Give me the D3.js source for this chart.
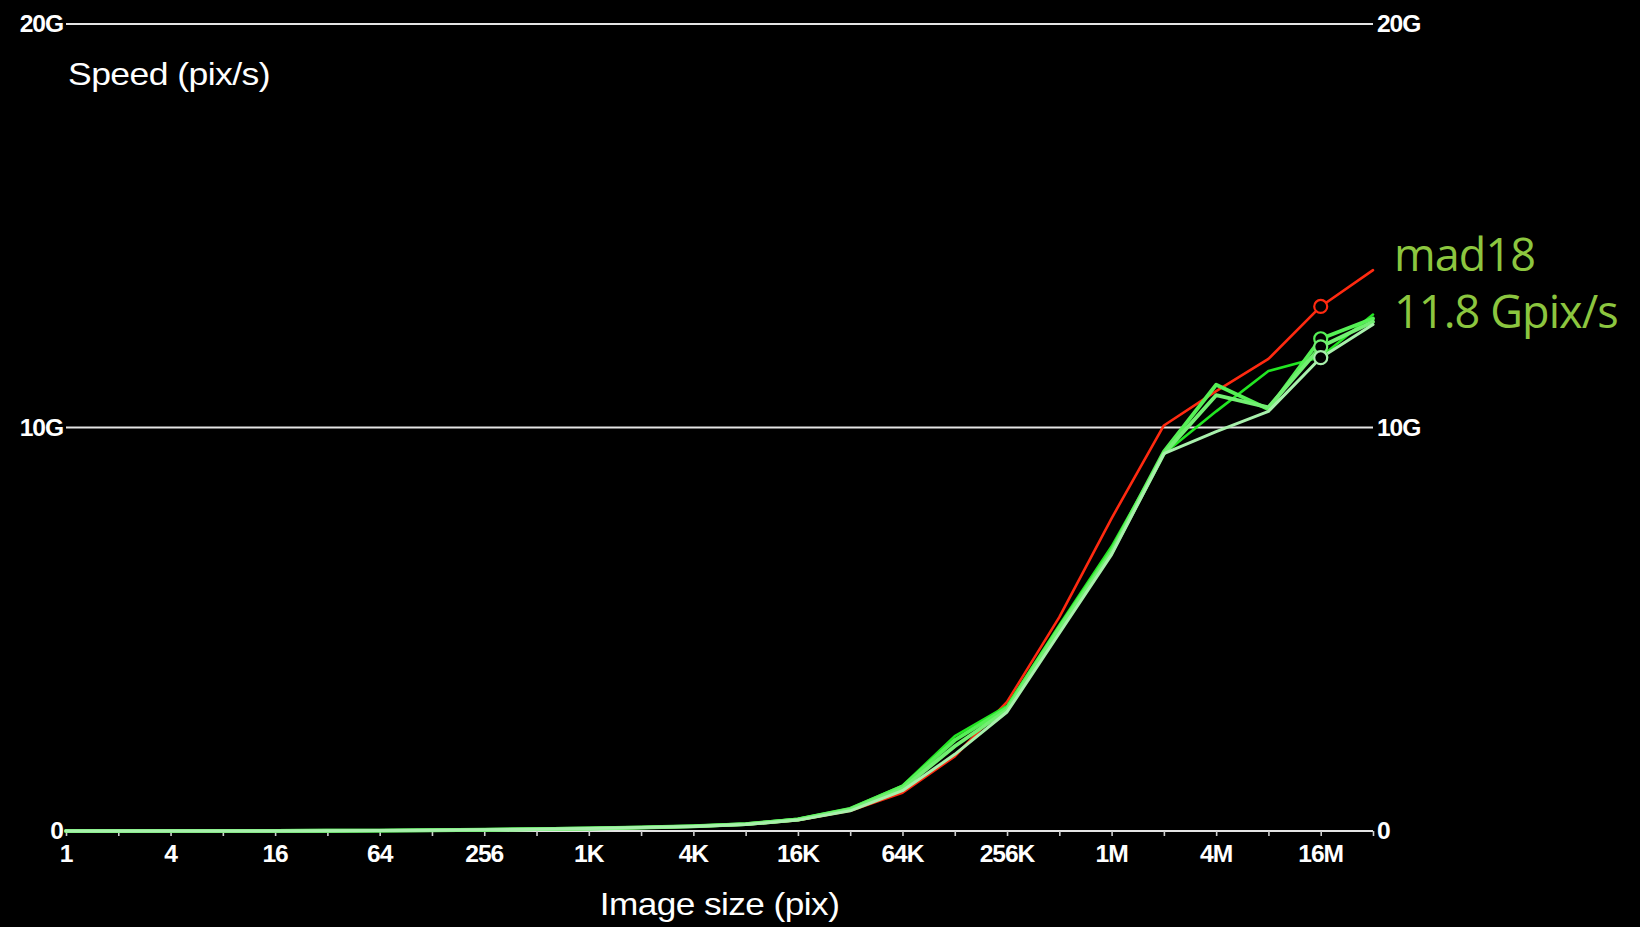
<!DOCTYPE html>
<html>
<head>
<meta charset="utf-8">
<script src="https://cdn.jsdelivr.net/npm/d3@7"></script>
<style>
  html, body { margin: 0; padding: 0; background: #000; }
  svg { display: block; }
</style>
</head>
<body>
<svg id="chart" width="1640" height="927"></svg>
<script>
// ---- data ----
const sizes = [1, 2, 4, 8, 16, 32, 64, 128, 256, 512, 1024, 2048, 4096, 8192, 16384, 32768,
  65536, 131072, 262144, 524288, 1048576, 2097152, 4194304, 8388608, 16777216, 33554432];
const xTickValues = [1, 4, 16, 64, 256, 1024, 4096, 16384, 65536, 262144, 1048576, 4194304, 16777216];
const xTickLabels = ["1", "4", "16", "64", "256", "1K", "4K", "16K", "64K", "256K", "1M", "4M", "16M"];
const yTickValues = [0, 10, 20];
const yTickLabels = ["0", "10G", "20G"];

// speed in Gpix/s
const seriesRed = [0.0002, 0.0004, 0.0008, 0.0016, 0.003, 0.006, 0.011, 0.019, 0.03, 0.045, 0.06, 0.08, 0.11, 0.16, 0.27, 0.5, 0.95, 1.85, 3.2, 5.3, 7.75, 10.05, 10.9, 11.7, 13.0, 13.9];
const seriesG1 = [0.0002, 0.0004, 0.0008, 0.0016, 0.003, 0.006, 0.011, 0.02, 0.032, 0.048, 0.065, 0.09, 0.12, 0.18, 0.3, 0.56, 1.12, 2.35, 3.1, 5.1, 7.05, 9.35, 10.4, 11.4, 11.75, 12.8];
const seriesG2 = [0.0002, 0.0004, 0.0008, 0.0016, 0.003, 0.006, 0.011, 0.02, 0.031, 0.047, 0.063, 0.088, 0.12, 0.17, 0.29, 0.55, 1.1, 2.25, 3.05, 5.05, 6.95, 9.4, 11.06, 10.45, 12.2, 12.7];
const seriesG3 = [0.0002, 0.0004, 0.0008, 0.0016, 0.003, 0.006, 0.011, 0.019, 0.03, 0.046, 0.062, 0.086, 0.115, 0.17, 0.28, 0.53, 1.05, 2.1, 3.0, 5.0, 6.9, 9.35, 10.8, 10.5, 12.0, 12.62];
const seriesG4 = [0.0002, 0.0004, 0.0008, 0.0016, 0.003, 0.006, 0.011, 0.019, 0.03, 0.045, 0.06, 0.084, 0.11, 0.16, 0.27, 0.5, 1.0, 1.9, 2.95, 4.9, 6.85, 9.35, 9.9, 10.4, 11.73, 12.55];
const seriesNames = ["ref", "g1", "g2", "g3", "mad18"];
const seriesColors = ["#ff2a10", "#22e622", "#55f055", "#72f072", "#a8f0ac"];
const seriesWidths = [2.6, 2.6, 3.8, 3.8, 3];
const markerSize = 16777216;
const labelLines = ["mad18", "11.8 Gpix/s"];

const allSeries = [seriesRed, seriesG1, seriesG2, seriesG3, seriesG4];

// ---- layout ----
const svg = d3.select("#chart");
const X0 = 66, X1 = 1373, Y0 = 831, Y1 = 24;

const x = d3.scaleLog().base(2).domain([1, 33554432]).range([X0, X1]);
const y = d3.scaleLinear().domain([0, 20]).range([Y0, Y1]);

svg.append("rect").attr("width", 1640).attr("height", 927).attr("fill", "#000");

function stretch(sel, f) {
  sel.each(function () {
    const w = this.getComputedTextLength();
    d3.select(this).attr("textLength", w * f).attr("lengthAdjust", "spacingAndGlyphs");
  });
}

const tickFont = "'Liberation Sans', Arial, Helvetica, sans-serif";
const TICK_FS = 23, TICK_ST = 1.07;

// grid lines (horizontal)
svg.append("g")
  .selectAll("line")
  .data(yTickValues)
  .join("line")
  .attr("x1", X0).attr("x2", X1)
  .attr("y1", d => y(d)).attr("y2", d => y(d))
  .attr("stroke", "#e4e4e4")
  .attr("stroke-width", 2.2);

// y labels left and right
const yLeft = svg.append("g")
  .selectAll("text")
  .data(yTickValues)
  .join("text")
  .attr("x", X0 - 3)
  .attr("y", d => y(d))
  .attr("dy", "0.36em")
  .attr("text-anchor", "end")
  .attr("fill", "#fff")
  .attr("font-family", tickFont)
  .attr("font-weight", "bold")
  .attr("font-size", TICK_FS)
  .attr("letter-spacing", -1)
  .text((d, i) => yTickLabels[i]);
stretch(yLeft, TICK_ST);

const yRight = svg.append("g")
  .selectAll("text")
  .data(yTickValues)
  .join("text")
  .attr("x", X1 + 4)
  .attr("y", d => y(d))
  .attr("dy", "0.36em")
  .attr("text-anchor", "start")
  .attr("fill", "#fff")
  .attr("font-family", tickFont)
  .attr("font-weight", "bold")
  .attr("font-size", TICK_FS)
  .attr("letter-spacing", -1)
  .text((d, i) => yTickLabels[i]);
stretch(yRight, TICK_ST);

// x axis minor ticks at every power of two
const xAxis = d3.axisBottom(x)
  .tickValues(sizes)
  .tickSize(5)
  .tickFormat(() => "");
const gx = svg.append("g").attr("transform", `translate(0,${Y0})`).call(xAxis);
gx.select(".domain").remove();
gx.selectAll(".tick line").attr("stroke", "#cfcfcf").attr("stroke-width", 1.6);

// x tick labels
const xl = svg.append("g")
  .selectAll("text")
  .data(xTickValues)
  .join("text")
  .attr("x", d => x(d))
  .attr("y", 862)
  .attr("text-anchor", "middle")
  .attr("fill", "#fff")
  .attr("font-family", tickFont)
  .attr("font-weight", "bold")
  .attr("font-size", TICK_FS)
  .attr("letter-spacing", -1)
  .text((d, i) => xTickLabels[i]);
stretch(xl, TICK_ST);

// axis titles
const t1 = svg.append("text")
  .attr("x", 68).attr("y", 85)
  .attr("fill", "#fff")
  .attr("font-family", tickFont)
  .attr("font-size", 32)
  .attr("letter-spacing", -0.5)
  .text("Speed (pix/s)");
stretch(t1, 1.11);
const t2 = svg.append("text")
  .attr("x", (X0 + X1) / 2).attr("y", 915)
  .attr("text-anchor", "middle")
  .attr("fill", "#fff")
  .attr("font-family", tickFont)
  .attr("font-size", 32)
  .attr("letter-spacing", -0.5)
  .text("Image size (pix)");
stretch(t2, 1.1);

// lines
const line = d3.line()
  .x((d, i) => x(sizes[i]))
  .y(d => y(d));

svg.append("g")
  .selectAll("path")
  .data(allSeries)
  .join("path")
  .attr("d", d => line(d))
  .attr("fill", "none")
  .attr("stroke", (d, i) => seriesColors[i])
  .attr("stroke-width", (d, i) => seriesWidths[i])
  .attr("stroke-linejoin", "round")
  .attr("stroke-linecap", "round");

// markers at 16M
const mi = sizes.indexOf(markerSize);
svg.append("g")
  .selectAll("circle")
  .data(allSeries)
  .join("circle")
  .attr("cx", x(markerSize))
  .attr("cy", d => y(d[mi]))
  .attr("r", 6.5)
  .attr("fill", "#000")
  .attr("stroke", (d, i) => seriesColors[i])
  .attr("stroke-width", 2.2);

// label
svg.append("g")
  .selectAll("text")
  .data(labelLines)
  .join("text")
  .attr("x", 1394)
  .attr("y", (d, i) => 271 + i * 57)
  .attr("fill", "#8cc63f")
  .attr("font-family", "'Open Sans', 'Noto Sans', sans-serif")
  .attr("font-size", 45)
  .attr("letter-spacing", -0.9)
  .text(d => d);
</script>
</body>
</html>
